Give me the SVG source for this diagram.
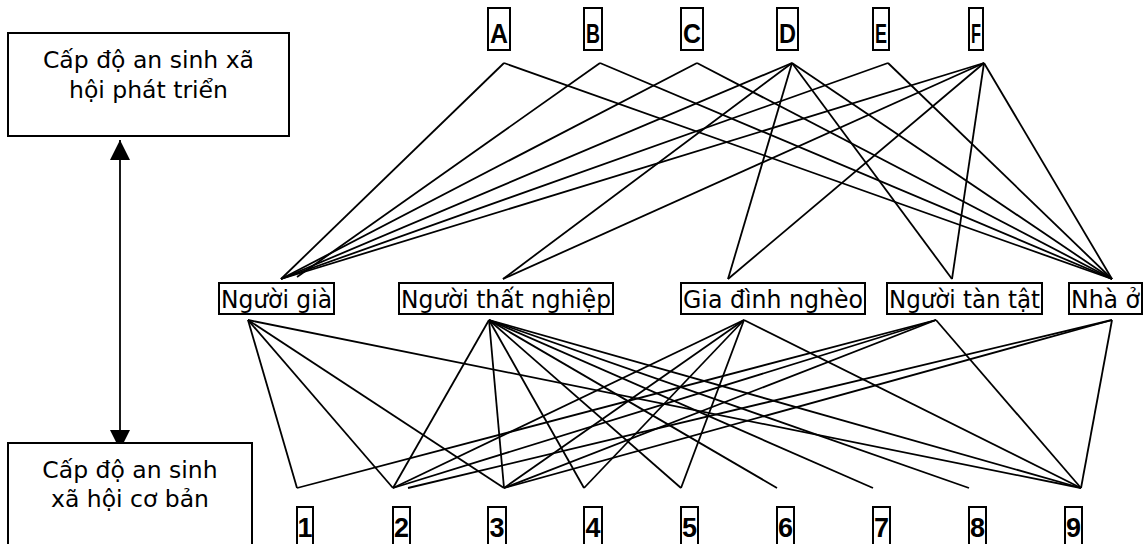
<svg xmlns="http://www.w3.org/2000/svg" width="1143" height="544" viewBox="0 0 1143 544">
<style>
.box{fill:#fff;stroke:#000;stroke-width:2}
.lbl{font-family:"DejaVu Sans",sans-serif;font-size:24px;fill:#000}
.big{font-family:"DejaVu Sans",sans-serif;font-size:23.5px;fill:#000;text-anchor:middle}
.key{font-family:"Liberation Sans",Arial,sans-serif;font-size:27px;font-weight:bold;fill:#000;text-anchor:middle}
.c line{stroke:#000;stroke-width:1.8}
</style>
<defs>
<marker id="ah" viewBox="0 0 20 20" refX="20" refY="10" markerWidth="20" markerHeight="20" orient="auto-start-reverse" markerUnits="userSpaceOnUse"><path d="M0,0 L20,10 L0,20 z" fill="#000"/></marker>
</defs>
<g id="connectors" class="c">
<line x1="504" y1="63" x2="281" y2="279"/>
<line x1="504" y1="63" x2="1112" y2="279"/>
<line x1="600" y1="63" x2="297" y2="277"/>
<line x1="600" y1="63" x2="1112" y2="279"/>
<line x1="697" y1="63" x2="281" y2="279"/>
<line x1="697" y1="63" x2="1112" y2="279"/>
<line x1="792" y1="63" x2="281" y2="279"/>
<line x1="792" y1="63" x2="503" y2="279"/>
<line x1="792" y1="63" x2="728" y2="279"/>
<line x1="792" y1="63" x2="952" y2="279"/>
<line x1="792" y1="63" x2="1112" y2="279"/>
<line x1="888" y1="63" x2="281" y2="279"/>
<line x1="888" y1="63" x2="1112" y2="279"/>
<line x1="984" y1="63" x2="281" y2="279"/>
<line x1="984" y1="63" x2="503" y2="279"/>
<line x1="984" y1="63" x2="728" y2="279"/>
<line x1="984" y1="63" x2="952" y2="279"/>
<line x1="984" y1="63" x2="1112" y2="279"/>
<line x1="248" y1="320" x2="297" y2="488"/>
<line x1="248" y1="320" x2="393" y2="488"/>
<line x1="248" y1="320" x2="504" y2="488"/>
<line x1="248" y1="320" x2="1081" y2="488"/>
<line x1="489" y1="320" x2="393" y2="488"/>
<line x1="489" y1="320" x2="504" y2="488"/>
<line x1="489" y1="320" x2="584" y2="488"/>
<line x1="489" y1="320" x2="681" y2="488"/>
<line x1="489" y1="320" x2="777" y2="488"/>
<line x1="489" y1="320" x2="873" y2="488"/>
<line x1="489" y1="320" x2="969" y2="488"/>
<line x1="489" y1="320" x2="1081" y2="488"/>
<line x1="744" y1="320" x2="393" y2="488"/>
<line x1="744" y1="320" x2="504" y2="488"/>
<line x1="744" y1="320" x2="584" y2="488"/>
<line x1="744" y1="320" x2="681" y2="488"/>
<line x1="744" y1="320" x2="1081" y2="488"/>
<line x1="936" y1="320" x2="297" y2="488"/>
<line x1="936" y1="320" x2="393" y2="488"/>
<line x1="936" y1="320" x2="504" y2="488"/>
<line x1="936" y1="320" x2="1081" y2="488"/>
<line x1="1112" y1="320" x2="408" y2="488"/>
<line x1="1112" y1="320" x2="504" y2="488"/>
<line x1="1112" y1="320" x2="1081" y2="488"/>
<line x1="120" y1="140" x2="120" y2="450" marker-start="url(#ah)" marker-end="url(#ah)"/>
</g>
<g id="level-high"><rect class="box" x="8" y="33" width="281" height="103"/><text class="big" x="148.5" y="68">Cấp độ an sinh xã</text><text class="big" x="148.5" y="98">hội phát triển</text></g>
<g id="level-basic"><rect class="box" x="8" y="443" width="244" height="110"/><text class="big" x="130" y="478">Cấp độ an sinh</text><text class="big" x="130" y="507">xã hội cơ bản</text></g>
<g id="node-A"><rect class="box" x="488" y="8" width="22" height="42"/><text class="key" x="499" y="43" textLength="18" lengthAdjust="spacingAndGlyphs">A</text></g>
<g id="node-B"><rect class="box" x="584" y="8" width="18" height="42"/><text class="key" x="593" y="43" textLength="14" lengthAdjust="spacingAndGlyphs">B</text></g>
<g id="node-C"><rect class="box" x="681" y="8" width="22" height="42"/><text class="key" x="692" y="43" textLength="18" lengthAdjust="spacingAndGlyphs">C</text></g>
<g id="node-D"><rect class="box" x="777" y="8" width="21" height="42"/><text class="key" x="787.5" y="43" textLength="17" lengthAdjust="spacingAndGlyphs">D</text></g>
<g id="node-E"><rect class="box" x="873" y="8" width="16" height="42"/><text class="key" x="881" y="43" textLength="12" lengthAdjust="spacingAndGlyphs">E</text></g>
<g id="node-F"><rect class="box" x="969" y="8" width="14" height="42"/><text class="key" x="976" y="43" textLength="10" lengthAdjust="spacingAndGlyphs">F</text></g>
<g id="node-nguoi-gia"><rect class="box" x="219" y="283" width="115" height="31"/><text class="lbl" x="221" y="308" textLength="111" lengthAdjust="spacingAndGlyphs">Người già</text></g>
<g id="node-nguoi-that-nghiep"><rect class="box" x="399" y="283" width="214" height="31"/><text class="lbl" x="401" y="308" textLength="210" lengthAdjust="spacingAndGlyphs">Người thất nghiệp</text></g>
<g id="node-gia-dinh-ngheo"><rect class="box" x="681" y="283" width="184" height="31"/><text class="lbl" x="683" y="308" textLength="180" lengthAdjust="spacingAndGlyphs">Gia đình nghèo</text></g>
<g id="node-nguoi-tan-tat"><rect class="box" x="887" y="283" width="155" height="31"/><text class="lbl" x="889" y="308" textLength="151" lengthAdjust="spacingAndGlyphs">Người tàn tật</text></g>
<g id="node-nha-o"><rect class="box" x="1069" y="283" width="73" height="31"/><text class="lbl" x="1071" y="308" textLength="69" lengthAdjust="spacingAndGlyphs">Nhà ở</text></g>
<g id="node-1"><rect class="box" x="297" y="507" width="16" height="40"/><text class="key" x="305" y="537">1</text></g>
<g id="node-2"><rect class="box" x="393" y="507" width="17" height="40"/><text class="key" x="401.5" y="537">2</text></g>
<g id="node-3"><rect class="box" x="488" y="507" width="18" height="40"/><text class="key" x="497" y="537">3</text></g>
<g id="node-4"><rect class="box" x="584" y="507" width="18" height="40"/><text class="key" x="593" y="537">4</text></g>
<g id="node-5"><rect class="box" x="681" y="507" width="17" height="40"/><text class="key" x="689.5" y="537">5</text></g>
<g id="node-6"><rect class="box" x="777" y="507" width="17" height="40"/><text class="key" x="785.5" y="537">6</text></g>
<g id="node-7"><rect class="box" x="873" y="507" width="17" height="40"/><text class="key" x="881.5" y="537">7</text></g>
<g id="node-8"><rect class="box" x="969" y="507" width="17" height="40"/><text class="key" x="977.5" y="537">8</text></g>
<g id="node-9"><rect class="box" x="1065" y="507" width="17" height="40"/><text class="key" x="1073.5" y="537">9</text></g>
</svg>
